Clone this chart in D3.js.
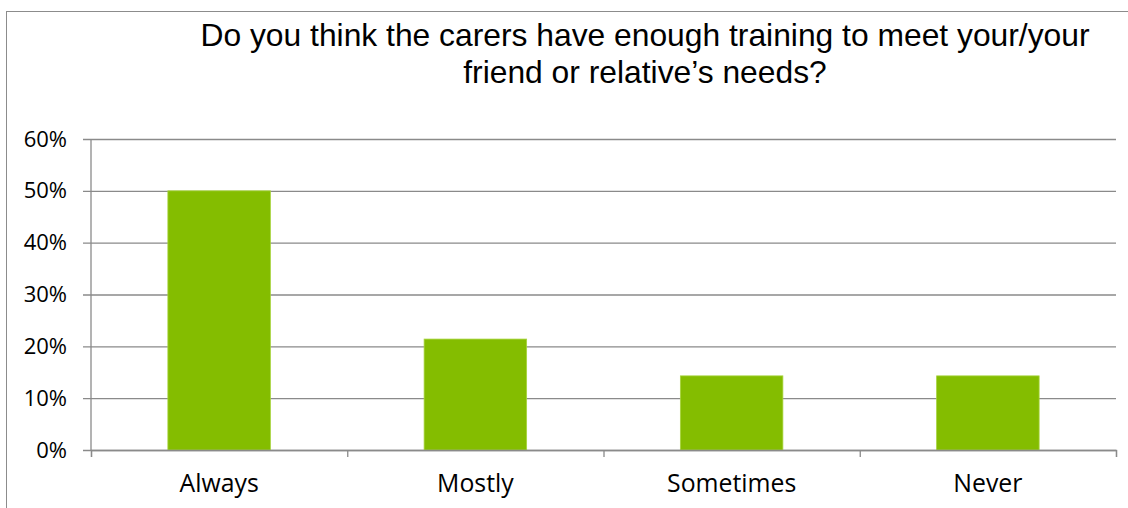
<!DOCTYPE html>
<html>
<head>
<meta charset="utf-8">
<script src="https://cdn.jsdelivr.net/npm/d3@7"></script>
<style>
  html, body { margin: 0; padding: 0; background: #fff; }
  svg { display: block; }
</style>
</head>
<body>
<svg id="chart" width="1128" height="508"></svg>
<script>
// Survey answers (share of respondents)
const categories = ["Always", "Mostly", "Sometimes", "Never"];
const values = [0.50, 0.214, 0.143, 0.143];
const yTicks = [0, 0.1, 0.2, 0.3, 0.4, 0.5, 0.6];
const titleLines = [
  "Do you think the carers have enough training to meet your/your",
  "friend or relative\u2019s needs?"
];

const svg = d3.select("#chart");
const W = 1128, H = 508;
const plot = { left: 91, right: 1116, top: 139, bottom: 450 };
const gridColor = "#8a8a8a";
const barColor = "#84bd00";

// chart frame
svg.append("rect")
  .attr("x", 6.5).attr("y", 11.5)
  .attr("width", W).attr("height", H)
  .attr("fill", "none").attr("stroke", "#8c8c8c").attr("stroke-width", 1);

// title
const titleY = [45.5, 83];
svg.append("g").selectAll("text")
  .data(titleLines)
  .join("text")
  .attr("x", 645)
  .attr("y", (d, i) => titleY[i])
  .attr("text-anchor", "middle")
  .attr("font-family", "'Liberation Sans', Arial, sans-serif")
  .attr("font-size", 31.8)
  .attr("fill", "#000")
  .text(d => d);

// scales
const y = d3.scaleLinear().domain([0, 0.6]).range([plot.bottom, plot.top]);
const x = d3.scaleBand().domain(categories)
  .range([plot.left, plot.right])
  .paddingInner(0.6).paddingOuter(0.3);
const xEdges = d3.scaleLinear().domain([0, categories.length]).range([plot.left, plot.right]);

// horizontal gridlines with left tick marks
const yAxis = d3.axisLeft(y)
  .tickValues(yTicks)
  .tickSize(-(plot.right - plot.left))
  .tickPadding(16)
  .tickFormat(d3.format(".0%"));
const gy = svg.append("g")
  .attr("transform", `translate(${plot.left},0)`)
  .call(yAxis);
gy.select(".domain").remove();
gy.selectAll(".tick line")
  .attr("x1", -8)
  .attr("stroke", gridColor).attr("stroke-width", 1.3);
gy.selectAll(".tick text")
  .attr("x", -24)
  .attr("font-family", "'Open Sans', sans-serif")
  .attr("font-size", 22)
  .attr("fill", "#000");

// vertical axis line
svg.append("line")
  .attr("x1", plot.left).attr("x2", plot.left)
  .attr("y1", plot.top).attr("y2", plot.bottom)
  .attr("stroke", gridColor).attr("stroke-width", 1.3);

// bars
svg.append("g").selectAll("rect")
  .data(categories.map((c, i) => ({ c, v: values[i] })))
  .join("rect")
  .attr("x", d => x(d.c))
  .attr("y", d => y(d.v))
  .attr("width", x.bandwidth())
  .attr("height", d => y(0) - y(d.v))
  .attr("fill", barColor)
  .attr("stroke", "#a6d33c")
  .attr("stroke-width", 0.8);

// category axis: boundary ticks
const gx = svg.append("g")
  .attr("transform", `translate(0,${plot.bottom})`)
  .call(d3.axisBottom(xEdges).tickValues(d3.range(categories.length + 1)).tickSize(7).tickFormat(""));
gx.select(".domain").attr("stroke", gridColor).attr("stroke-width", 1.3);
gx.selectAll(".tick line").attr("stroke", gridColor).attr("stroke-width", 1.3);

// category labels
const gl = svg.append("g")
  .attr("transform", `translate(0,${plot.bottom})`)
  .call(d3.axisBottom(x).tickSize(0).tickPadding(24));
gl.select(".domain").remove();
gl.selectAll(".tick text")
  .attr("font-family", "'Open Sans', sans-serif")
  .attr("font-size", 24.8)
  .attr("fill", "#000");
</script>
</body>
</html>
